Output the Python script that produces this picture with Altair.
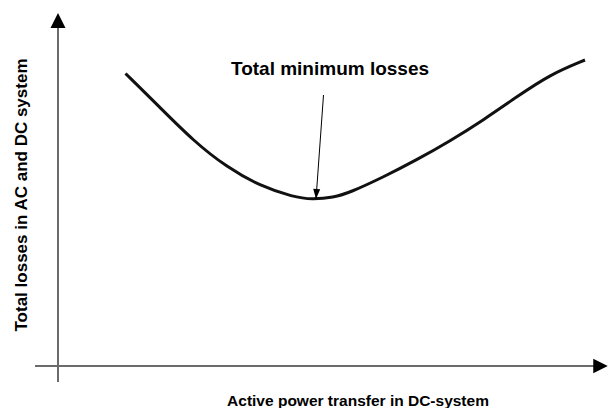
import altair as alt
import pandas as pd

# Schematic curve (arbitrary units): active power transfer vs total losses
power = [1.35, 2.04, 2.71, 3.37, 4.04, 4.71, 5.08, 5.51, 5.84, 6.51, 7.17, 7.84, 8.51, 9.17, 9.84, 10.54]
losses = [5.85, 5.17, 4.50, 3.98, 3.60, 3.38, 3.33, 3.37, 3.47, 3.78, 4.12, 4.50, 4.92, 5.38, 5.83, 6.12]

# axis extents (same units)
x_axis_range = [-0.46, 10.72]
y_axis_range = [-0.32, 6.76]
x_arrow_pos = [10.85]
y_arrow_pos = [6.91]

annot_label = ["Total minimum losses"]
annot_label_pos = [5.44, 5.82]
annot_line_x = [5.31, 5.16]
annot_line_y = [5.42, 3.34]

x_title = ["Active power transfer in DC-system"]
x_title_pos = [6.0, -0.8]
y_title = ["Total losses in AC and DC system"]
y_title_pos = [-0.63, 3.42]

W, H = 600, 400
xs = alt.Scale(domain=[-1, 11], nice=False, zero=False)
ys = alt.Scale(domain=[-0.84, 7.16], nice=False, zero=False)

FONT = "Liberation Sans"
AXIS_GRAY = "#6b6b6b"

curve_df = pd.DataFrame({"power": power, "losses": losses})
curve = alt.Chart(curve_df).mark_line(color="#111111", strokeWidth=3, interpolate="basis").encode(
    x=alt.X("power:Q", scale=xs, axis=None),
    y=alt.Y("losses:Q", scale=ys, axis=None),
)

xaxis_df = pd.DataFrame({"x": [x_axis_range[0]], "x2": [x_axis_range[1]], "y": [0.0]})
xaxis = alt.Chart(xaxis_df).mark_rule(color=AXIS_GRAY, strokeWidth=2).encode(
    x=alt.X("x:Q", scale=xs, axis=None), x2="x2:Q", y=alt.Y("y:Q", scale=ys, axis=None)
)
yaxis_df = pd.DataFrame({"y": [y_axis_range[0]], "y2": [y_axis_range[1]], "x": [0.0]})
yaxis = alt.Chart(yaxis_df).mark_rule(color=AXIS_GRAY, strokeWidth=2).encode(
    y=alt.Y("y:Q", scale=ys, axis=None), y2="y2:Q", x=alt.X("x:Q", scale=xs, axis=None)
)

xarrow_df = pd.DataFrame({"x": x_arrow_pos, "y": [0.0]})
xarrow = alt.Chart(xarrow_df).mark_point(
    shape="M1,0L-1,-1L-1,1Z", filled=True, color="black", size=210, opacity=1, strokeWidth=0
).encode(x=alt.X("x:Q", scale=xs, axis=None), y=alt.Y("y:Q", scale=ys, axis=None))

yarrow_df = pd.DataFrame({"x": [0.0], "y": y_arrow_pos})
yarrow = alt.Chart(yarrow_df).mark_point(
    shape="M0,-1L1,1L-1,1Z", filled=True, color="black", size=225, opacity=1, strokeWidth=0
).encode(x=alt.X("x:Q", scale=xs, axis=None), y=alt.Y("y:Q", scale=ys, axis=None))

annot_line_df = pd.DataFrame({"x": [annot_line_x[0]], "x2": [annot_line_x[1]],
                              "y": [annot_line_y[0]], "y2": [annot_line_y[1]]})
annot_line = alt.Chart(annot_line_df).mark_rule(color="black", strokeWidth=1).encode(
    x=alt.X("x:Q", scale=xs, axis=None), x2="x2:Q",
    y=alt.Y("y:Q", scale=ys, axis=None), y2="y2:Q",
)
annot_head_df = pd.DataFrame({"x": [annot_line_x[1]], "y": [annot_line_y[1]]})
annot_head = alt.Chart(annot_head_df).mark_point(
    shape="M0,0L-0.35,-1L0.35,-1Z", filled=True, color="black", size=400, opacity=1,
    strokeWidth=0, angle=4
).encode(x=alt.X("x:Q", scale=xs, axis=None), y=alt.Y("y:Q", scale=ys, axis=None))

annot_df = pd.DataFrame({"t": annot_label, "x": [annot_label_pos[0]], "y": [annot_label_pos[1]]})
annot = alt.Chart(annot_df).mark_text(
    font=FONT, fontWeight="bold", fontSize=19, align="center", baseline="alphabetic", color="black"
).encode(x=alt.X("x:Q", scale=xs, axis=None), y=alt.Y("y:Q", scale=ys, axis=None), text="t:N")

xt_df = pd.DataFrame({"t": x_title, "x": [x_title_pos[0]], "y": [x_title_pos[1]]})
xt = alt.Chart(xt_df).mark_text(
    font=FONT, fontWeight="bold", fontSize=15.5, align="center", baseline="alphabetic", color="black"
).encode(x=alt.X("x:Q", scale=xs, axis=None), y=alt.Y("y:Q", scale=ys, axis=None), text="t:N")

yt_df = pd.DataFrame({"t": y_title, "x": [y_title_pos[0]], "y": [y_title_pos[1]]})
yt = alt.Chart(yt_df).mark_text(
    font=FONT, fontWeight="bold", fontSize=17, align="center", baseline="alphabetic", color="black",
    angle=270
).encode(x=alt.X("x:Q", scale=xs, axis=None), y=alt.Y("y:Q", scale=ys, axis=None), text="t:N")

chart = alt.layer(xaxis, yaxis, xarrow, yarrow, curve, annot_line, annot_head, annot, xt, yt).properties(
    width=W, height=H, padding=0, autosize=alt.AutoSizeParams(type="none"), background="white"
).configure_view(stroke=None)

chart.save("out.html", embed_options={"renderer": "svg", "actions": False})
